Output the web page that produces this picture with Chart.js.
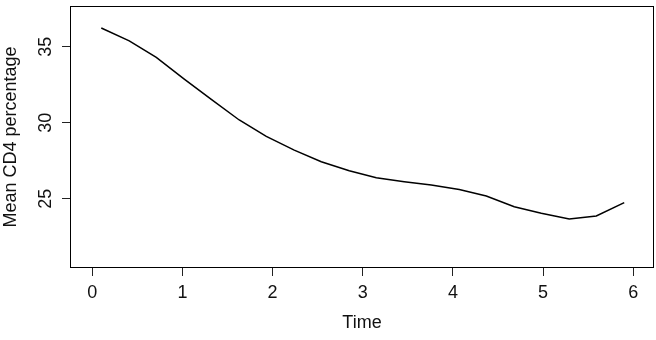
<!DOCTYPE html>
<html>
<head>
<meta charset="utf-8">
<script src="https://cdn.jsdelivr.net/npm/chart.js@4/dist/chart.umd.min.js"></script>
<style>
  html, body { margin: 0; padding: 0; background: #ffffff; }
  #wrap { width: 656px; height: 340px; position: relative; }
</style>
</head>
<body>
<div id="wrap"><canvas id="c" width="656" height="340"></canvas></div>
<script>
// Data
const timePoints = [0.1, 0.41, 0.71, 1.02, 1.32, 1.63, 1.93, 2.24, 2.54, 2.85, 3.15, 3.46, 3.76, 4.07, 4.37, 4.68, 4.98, 5.29, 5.59, 5.9];
const meanCD4 = [36.23, 35.39, 34.3, 32.87, 31.54, 30.18, 29.1, 28.2, 27.43, 26.84, 26.38, 26.12, 25.9, 25.6, 25.18, 24.47, 24.04, 23.66, 23.86, 24.74];
const xTickValues = [0, 1, 2, 3, 4, 5, 6];
const yTickValues = [25, 30, 35];
const xTitle = 'Time';
const yTitle = 'Mean CD4 percentage';

const FONT = 'Liberation Sans, Arial, Helvetica, sans-serif';
const FS = 18;

const boxPlugin = {
  id: 'box',
  afterDraw(chart) {
    const a = chart.chartArea, ctx = chart.ctx;
    ctx.save();
    ctx.strokeStyle = '#000';
    ctx.lineWidth = 1;
    ctx.strokeRect(Math.round(a.left) + 0.5, Math.round(a.top) + 0.5, Math.round(a.right - a.left) - 1, Math.round(a.bottom - a.top) - 1);
    ctx.restore();
  }
};

new Chart(document.getElementById('c'), {
  type: 'line',
  data: {
    datasets: [{
      data: timePoints.map((t, i) => ({ x: t, y: meanCD4[i] })),
      borderColor: '#000',
      borderWidth: 1.5,
      pointRadius: 0,
      tension: 0,
      fill: false
    }]
  },
  options: {
    responsive: false,
    animation: false,
    devicePixelRatio: 1,
    layout: { padding: { top: 6, right: 2, left: 0, bottom: 0 } },
    plugins: { legend: { display: false }, tooltip: { enabled: false } },
    scales: {
      x: {
        type: 'linear',
        min: -0.247,
        max: 6.23,
        afterBuildTicks: s => { s.ticks = xTickValues.map(v => ({ value: v })); },
        afterFit: s => { s.height = 72; s.paddingLeft = 0; s.paddingRight = 0; },
        grid: { drawOnChartArea: false, drawTicks: true, tickLength: 8, color: '#222', lineWidth: 1 },
        border: { display: false },
        ticks: { color: '#111', font: { family: FONT, size: FS }, padding: 6, maxRotation: 0, autoSkip: false },
        title: { display: true, text: xTitle, color: '#111', font: { family: FONT, size: FS }, padding: { top: 0, bottom: 6 } }
      },
      y: {
        type: 'linear',
        min: 20.44,
        max: 37.68,
        afterBuildTicks: s => { s.ticks = yTickValues.map(v => ({ value: v })); },
        afterFit: s => { s.width = 70; s.paddingTop = 0; s.paddingBottom = 0; },
        grid: { drawOnChartArea: false, drawTicks: true, tickLength: 8, color: '#222', lineWidth: 1 },
        border: { display: false },
        ticks: { color: '#111', font: { family: FONT, size: FS }, padding: 6, minRotation: 90, maxRotation: 90, crossAlign: 'center', autoSkip: false },
        title: { display: true, text: yTitle, color: '#111', font: { family: FONT, size: FS }, padding: { top: 0, bottom: 0 } }
      }
    }
  },
  plugins: [boxPlugin]
});
</script>
</body>
</html>
